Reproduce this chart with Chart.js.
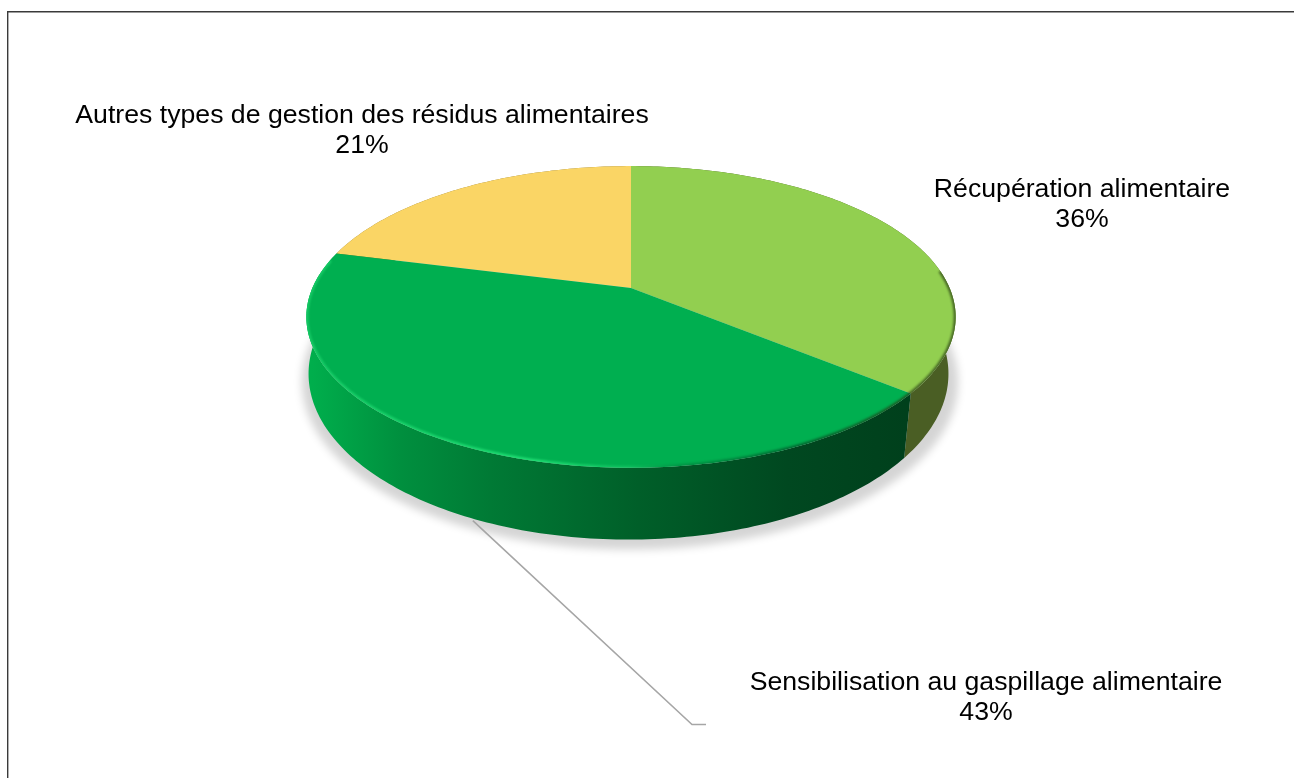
<!DOCTYPE html>
<html>
<head>
<meta charset="utf-8">
<title>Gestion des résidus alimentaires</title>
<script src="https://cdn.jsdelivr.net/npm/chart.js@4"></script>
<style>
  html, body { margin: 0; padding: 0; background: #fff; overflow: hidden; }
  canvas { display: block; }
</style>
</head>
<body>
<canvas id="pie" width="1294" height="778"></canvas>
<script>
const categories = [
  'Récupération alimentaire',
  'Sensibilisation au gaspillage alimentaire',
  'Autres types de gestion des résidus alimentaires'
];
const values = [36, 43, 21];
const sliceColors = ['#92CF50', '#00AF50', '#FAD565'];

// label centres, same order as categories
const labelX = [1082, 986, 362];
const labelY = [190, 683, 116];

// the pie is tilted with some perspective: the slices are projected from a flat disc
const persp = -0.192;
const topPlane = { cx: 631, r: 318.6, a: 90, b: 288 };
const basePlane = { cx: 628.5, r: 314, a: 94, b: 342 };
const shadowPlane = { cx: 630, r: 322, a: 94, b: 350 };

function project(plane, angle) {
  const u = Math.cos(angle), v = Math.sin(angle);
  const d = 1 + persp * v;
  return [plane.cx + plane.r * u / d, (plane.a * v + plane.b) / d];
}

function rimPoints(plane, from, to) {
  const pts = [];
  const n = Math.max(2, Math.ceil(Math.abs(to - from) * 60));
  for (let i = 0; i <= n; i++) pts.push(project(plane, from + (to - from) * i / n));
  return pts;
}

function tracePts(ctx, pts, first) {
  pts.forEach((p, i) => {
    if (i === 0 && first) ctx.moveTo(p[0], p[1]);
    else ctx.lineTo(p[0], p[1]);
  });
}

function wallFill(ctx, i) {
  if (i === 1) {
    const g = ctx.createLinearGradient(312, 0, 906, 0);
    g.addColorStop(0, '#00AE4C');
    g.addColorStop(0.15, '#008F3E');
    g.addColorStop(0.3, '#007A35');
    g.addColorStop(0.55, '#005F29');
    g.addColorStop(0.8, '#004820');
    g.addColorStop(1, '#00401C');
    return g;
  }
  return i === 0 ? '#4A5E24' : '#8A7430';
}

const pie3d = {
  id: 'pie3d',
  beforeDatasetsDraw(chart) {
    const ctx = chart.ctx;
    const arcs = chart.getDatasetMeta(0).data;

    // frame, only top and left show
    ctx.save();
    ctx.strokeStyle = '#3A3A3A';
    ctx.lineWidth = 1.4;
    ctx.beginPath();
    ctx.moveTo(7.7, 778);
    ctx.lineTo(7.7, 11.7);
    ctx.lineTo(1294, 11.7);
    ctx.stroke();
    ctx.restore();

    // soft shadow under the base, the shape itself is drawn off the canvas
    ctx.save();
    ctx.shadowColor = 'rgba(0,0,0,0.17)';
    ctx.shadowBlur = 9;
    ctx.shadowOffsetX = 3000;
    ctx.translate(-3000, 0);
    ctx.fillStyle = '#000';
    ctx.beginPath();
    tracePts(ctx, rimPoints(shadowPlane, 0, Math.PI * 2), true);
    ctx.closePath();
    ctx.fill();
    ctx.restore();

    // side walls first, the top faces cover their back parts
    [2, 0, 1].forEach((i) => {
      const arc = arcs[i];
      ctx.fillStyle = wallFill(ctx, i);
      ctx.beginPath();
      tracePts(ctx, rimPoints(topPlane, arc.startAngle, arc.endAngle), true);
      tracePts(ctx, rimPoints(basePlane, arc.endAngle, arc.startAngle), false);
      ctx.closePath();
      ctx.fill();
    });

    // top faces
    [2, 0, 1].forEach((i) => {
      const arc = arcs[i];
      ctx.fillStyle = arc.options.backgroundColor;
      ctx.beginPath();
      ctx.moveTo(topPlane.cx, topPlane.b);
      tracePts(ctx, rimPoints(topPlane, arc.startAngle, arc.endAngle), false);
      ctx.closePath();
      ctx.fill();
    });

    // bevel along the front rim: light on the left, dark on the right
    const rim = ctx.createLinearGradient(306, 0, 955, 0);
    rim.addColorStop(0, 'rgba(40,225,120,0.55)');
    rim.addColorStop(0.35, 'rgba(40,235,125,0.8)');
    rim.addColorStop(0.5, 'rgba(40,225,120,0.35)');
    rim.addColorStop(0.58, 'rgba(0,70,35,0.25)');
    rim.addColorStop(0.75, 'rgba(0,60,30,0.6)');
    rim.addColorStop(0.93, 'rgba(40,60,20,0.7)');
    rim.addColorStop(1, 'rgba(40,60,20,0.7)');
    ctx.save();
    ctx.beginPath();
    ctx.moveTo(topPlane.cx, topPlane.b);
    tracePts(ctx, rimPoints(topPlane, 0, Math.PI * 2), false);
    ctx.clip();
    ctx.filter = 'blur(1.2px)';
    ctx.strokeStyle = rim;
    ctx.lineWidth = 4;
    ctx.beginPath();
    tracePts(ctx, rimPoints(topPlane, -0.12, Math.PI + 0.2), true);
    ctx.stroke();
    ctx.restore();

    // leader line of the green slice
    const green = arcs[1];
    const anchor = project(basePlane, (green.startAngle + green.endAngle) / 2 - 0.05);
    ctx.strokeStyle = '#A6A6A6';
    ctx.lineWidth = 1.6;
    ctx.beginPath();
    ctx.moveTo(anchor[0], anchor[1] + 2);
    ctx.lineTo(692, 724.5);
    ctx.lineTo(706, 724.5);
    ctx.stroke();

    return false;
  },
  afterDraw(chart) {
    const ctx = chart.ctx;
    const total = values.reduce((a, b) => a + b, 0);
    ctx.save();
    ctx.fillStyle = '#000';
    ctx.font = '26.67px "Liberation Sans", Arial, sans-serif';
    ctx.textAlign = 'center';
    ctx.textBaseline = 'middle';
    categories.forEach((name, i) => {
      ctx.fillText(name, labelX[i], labelY[i]);
      ctx.fillText(Math.round(values[i] / total * 100) + '%', labelX[i], labelY[i] + 30);
    });
    ctx.restore();
  }
};

new Chart(document.getElementById('pie'), {
  type: 'pie',
  data: {
    labels: categories,
    datasets: [{ data: values, backgroundColor: sliceColors, borderWidth: 0 }]
  },
  options: {
    responsive: false,
    animation: false,
    plugins: { legend: { display: false }, tooltip: { enabled: false } }
  },
  plugins: [pie3d]
});
</script>
</body>
</html>
